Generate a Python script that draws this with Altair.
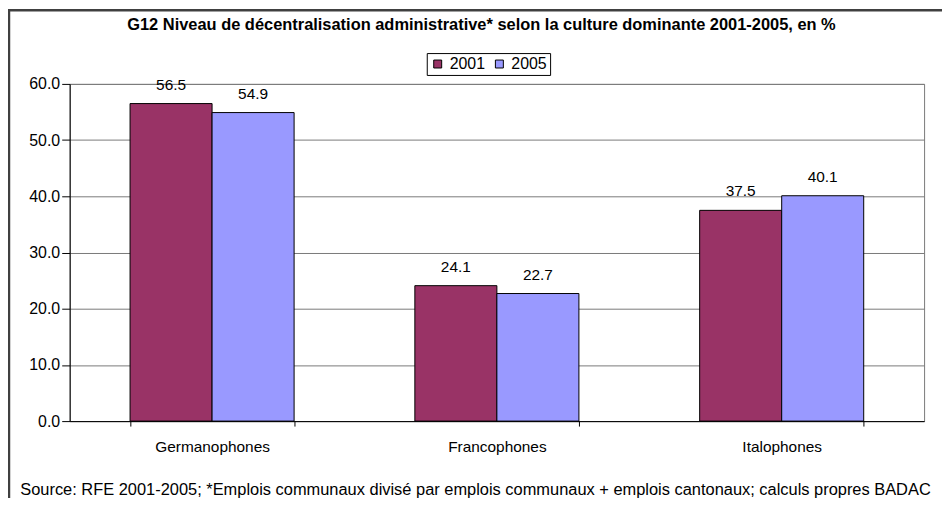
import altair as alt
import pandas as pd

title_text = "G12 Niveau de décentralisation administrative* selon la culture dominante 2001-2005, en %"
source_text = "Source: RFE 2001-2005; *Emplois communaux divisé par emplois communaux + emplois cantonaux; calculs propres BADAC"

categories = ["Germanophones", "Francophones", "Italophones"]
years = ["2001", "2005"]
v2001 = [56.5, 24.1, 37.5]
v2005 = [54.9, 22.7, 40.1]
colors = ["#993366", "#9999FF"]
y_ticks = [0, 10, 20, 30, 40, 50, 60]

rows = []
for c, a, b in zip(categories, v2001, v2005):
    rows.append({"Culture": c, "Année": "2001", "Valeur": a})
    rows.append({"Culture": c, "Année": "2005", "Valeur": b})
df = pd.DataFrame(rows)

W, H = 859, 339
FONT = "Liberation Sans"

x_enc = alt.X("Culture:N", sort=categories,
              scale=alt.Scale(paddingInner=0.424, paddingOuter=0.212),
              axis=alt.Axis(title=None, labelAngle=0, tickBand="extent",
                            domainColor="black", tickColor="black", tickSize=5,
                            labelFont=FONT, labelFontSize=15.5, labelColor="black",
                            labelPadding=14, grid=False))
xo_enc = alt.XOffset("Année:N", sort=years,
                     scale=alt.Scale(paddingInner=0, paddingOuter=0))

base = alt.Chart(df)

bars = base.mark_bar(stroke="black", strokeWidth=1).encode(
    x=x_enc,
    xOffset=xo_enc,
    y=alt.Y("Valeur:Q", scale=alt.Scale(domain=[0, 60], nice=False),
            axis=alt.Axis(title=None, values=y_ticks, format=".1f",
                          grid=True, gridColor="#7a7a7a", gridWidth=1,
                          domainColor="black", tickColor="black", tickSize=8,
                          labelFont=FONT, labelFontSize=16, labelColor="black",
                          labelPadding=2)),
    color=alt.Color("Année:N", sort=years,
                    scale=alt.Scale(domain=years, range=colors),
                    legend=alt.Legend(title=None, orient="none",
                                      legendX=359, legendY=-31,
                                      direction="horizontal",
                                      strokeColor="black", fillColor="white",
                                      padding=3, symbolType="square",
                                      symbolSize=64, symbolStrokeColor="black",
                                      symbolStrokeWidth=1, symbolOpacity=1,
                                      labelFont=FONT, labelFontSize=16,
                                      labelColor="black", columnPadding=6,
                                      labelOffset=4)),
)

labels = base.mark_text(font=FONT, fontSize=15.5, color="black",
                        baseline="alphabetic", dy=-14).encode(
    x=alt.X("Culture:N", sort=categories),
    xOffset=alt.XOffset("Année:N", sort=years),
    y=alt.Y("Valeur:Q"),
    text=alt.Text("Valeur:Q", format=".1f"),
)

tdf = pd.DataFrame({"t": [title_text]})
title = alt.Chart(tdf).mark_text(font=FONT, fontSize=16.5, fontWeight="bold",
                                 color="black", align="center",
                                 baseline="middle").encode(
    x=alt.value(414), y=alt.value(-59), text="t:N")

sdf = pd.DataFrame({"t": [source_text]})
source = alt.Chart(sdf).mark_text(font=FONT, fontSize=16.5, color="black",
                                  align="center", baseline="middle").encode(
    x=alt.value(408), y=alt.value(408), text="t:N")

border_top = alt.Chart(tdf).mark_rule(color="#404040", strokeWidth=2.5).encode(
    x=alt.value(-62), x2=alt.value(W + 30), y=alt.value(-74))
border_left = alt.Chart(tdf).mark_rule(color="#404040", strokeWidth=2.5).encode(
    x=alt.value(-61), y=alt.value(-75), y2=alt.value(H + 90))

chart = alt.layer(bars, labels, title, source, border_top, border_left).resolve_scale(
    x="shared"
).properties(
    width=W, height=H,
    autosize=alt.AutoSizeParams(type="none"),
    padding={"left": 62, "top": 75, "right": 18, "bottom": 76},
    background="white",
).configure_view(stroke="#7a7a7a", strokeWidth=1)

chart.save("out.html", embed_options={"renderer": "svg", "actions": False})
